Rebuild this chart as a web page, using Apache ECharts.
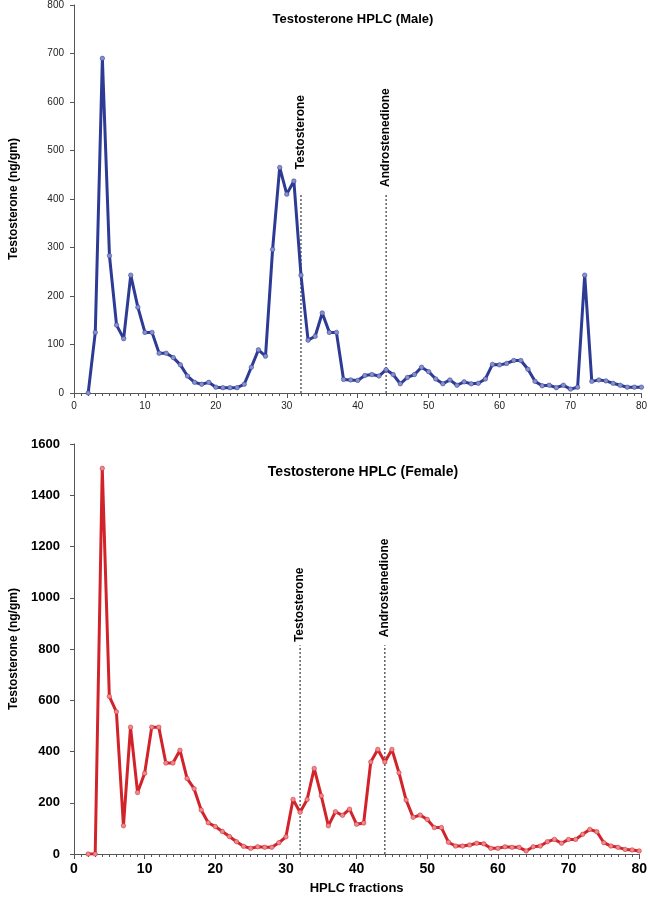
<!DOCTYPE html>
<html>
<head>
<meta charset="utf-8">
<script src="https://cdn.jsdelivr.net/npm/echarts@6/dist/echarts.min.js"></script>
<style>
html,body{margin:0;padding:0;background:#fff;}
#chart{width:650px;height:897px;}
</style>
</head>
<body>
<div id="chart"></div>
<script>
// ---- data ----
const fractions = [2,3,4,5,6,7,8,9,10,11,12,13,14,15,16,17,18,19,20,21,22,23,24,25,26,27,28,29,30,31,32,33,34,35,36,37,38,39,40,41,42,43,44,45,46,47,48,49,50,51,52,53,54,55,56,57,58,59,60,61,62,63,64,65,66,67,68,69,70,71,72,73,74,75,76,77,78,79,80];
const maleValues = [0,125,690,283,140,112,243,177,125,125,82,82,73,58,35,22,18,22,12,11,11,11,18,53,89,76,296,465,410,437,243,109,117,165,125,125,28,27,26,36,38,35,48,38,19,32,38,53,44,29,19,27,16,23,19,20,29,59,58,61,67,67,49,24,15,16,11,16,8,12,243,24,27,25,20,16,12,12,12];
const femaleValues = [0,0,1505,615,555,110,495,240,315,495,495,355,355,405,295,255,172,122,107,88,68,48,30,22,28,26,26,44,67,213,163,213,334,227,110,165,151,175,116,121,359,408,359,408,317,211,143,152,135,103,103,46,31,31,35,42,40,22,22,28,26,26,12,28,31,48,57,42,57,57,77,96,87,44,31,26,18,16,12];
const markerNames = ['Testosterone', 'Androstenedione'];
const markerFractions = [32, 44];
const maleMarkerTop = [412, 412];
const maleLabelBase = [461, 425];
const femaleMarkerTop = [815, 815];
const femaleLabelBase = [827, 846];
const maleTicks = {min: 0, max: 800, interval: 100};
const femaleTicks = {min: 0, max: 1600, interval: 200};
const xTicks = {min: 0, max: 80, interval: 10};

const FONT = '"Liberation Sans", Arial, sans-serif';
const zip = (xs, ys) => xs.map((x, i) => [x, ys[i]]);

function markerSeries(gi, tops, bases) {
  const out = [];
  markerFractions.forEach((f, i) => {
    out.push({
      type: 'line', xAxisIndex: gi, yAxisIndex: gi, silent: true,
      data: [[f, 0], [f, tops[i]]], symbol: 'none',
      lineStyle: {color: '#111', width: 1, type: [2, 2]}, z: 1
    });
    out.push({
      type: 'scatter', xAxisIndex: gi, yAxisIndex: gi, silent: true,
      data: [[f, bases[i]]], symbolSize: 0,
      itemStyle: {opacity: 1, color: '#000'},
      label: {show: true, position: 'inside', formatter: markerNames[i], rotate: 90,
        align: 'left', verticalAlign: 'middle', color: '#000', opacity: 1,
        textBorderWidth: 0, textShadowBlur: 0,
        fontFamily: FONT, fontWeight: 'bold', fontSize: 12}
    });
  });
  return out;
}

const axisLine = {show: true, lineStyle: {color: '#555', width: 1}};
const plain = v => String(v);

const option = {
  animation: false,
  backgroundColor: '#fff',
  title: [
    {text: 'Testosterone HPLC (Male)', left: 348, top: 8, textAlign: 'center',
     textStyle: {fontFamily: FONT, fontWeight: 'bold', fontSize: 13, color: '#000'}},
    {text: 'Testosterone HPLC (Female)', left: 358, top: 460, textAlign: 'center',
     textStyle: {fontFamily: FONT, fontWeight: 'bold', fontSize: 14, color: '#000'}}
  ],
  grid: [
    {left: 73, right: 7, top: 5, height: 388, containLabel: false},
    {left: 72.7, right: 7, top: 444, height: 410, containLabel: false}
  ],
  xAxis: [
    {type: 'value', gridIndex: 0, min: xTicks.min, max: xTicks.max, interval: xTicks.interval,
     axisLine: axisLine, splitLine: {show: false},
     axisTick: {show: true, length: 5, lineStyle: {color: '#555'}},
     minorTick: {show: true, splitNumber: 10, length: 3, lineStyle: {color: '#555'}},
     axisLabel: {fontFamily: FONT, fontSize: 10, color: '#222', margin: 8, formatter: plain}},
    {type: 'value', gridIndex: 1, min: xTicks.min, max: xTicks.max, interval: xTicks.interval,
     axisLine: axisLine, splitLine: {show: false},
     axisTick: {show: true, length: 5, lineStyle: {color: '#555'}},
     minorTick: {show: true, splitNumber: 10, length: 3, lineStyle: {color: '#555'}},
     axisLabel: {fontFamily: FONT, fontSize: 14, fontWeight: 'bold', color: '#000', margin: 8, formatter: plain},
     name: 'HPLC fractions', nameLocation: 'middle', nameGap: 28,
     nameTextStyle: {fontFamily: FONT, fontSize: 13, fontWeight: 'bold', color: '#000'}}
  ],
  yAxis: [
    {type: 'value', gridIndex: 0, min: maleTicks.min, max: maleTicks.max, interval: maleTicks.interval,
     axisLine: axisLine, splitLine: {show: false},
     axisTick: {show: true, length: 4, lineStyle: {color: '#555'}},
     axisLabel: {fontFamily: FONT, fontSize: 10, color: '#222', margin: 10, formatter: plain},
     name: 'Testosterone (ng/gm)', nameLocation: 'middle', nameGap: 54,
     nameTextStyle: {fontFamily: FONT, fontSize: 12, fontWeight: 'bold', color: '#000'}},
    {type: 'value', gridIndex: 1, min: femaleTicks.min, max: femaleTicks.max, interval: femaleTicks.interval,
     axisLine: axisLine, splitLine: {show: false},
     axisTick: {show: true, length: 4, lineStyle: {color: '#555'}},
     axisLabel: {fontFamily: FONT, fontSize: 13, fontWeight: 'bold', color: '#000', margin: 14, formatter: plain},
     name: 'Testosterone (ng/gm)', nameLocation: 'middle', nameGap: 54,
     nameTextStyle: {fontFamily: FONT, fontSize: 12, fontWeight: 'bold', color: '#000'}}
  ],
  series: [
    {type: 'line', xAxisIndex: 0, yAxisIndex: 0, data: zip(fractions, maleValues),
     symbol: 'circle', symbolSize: 4.5, z: 3,
     lineStyle: {color: '#2d3b95', width: 3},
     itemStyle: {color: '#8790c8', borderColor: '#2d3b95', borderWidth: 0.5}},
    {type: 'line', xAxisIndex: 1, yAxisIndex: 1, data: zip(fractions, femaleValues),
     symbol: 'circle', symbolSize: 4.5, z: 3,
     lineStyle: {color: '#d2232a', width: 3},
     itemStyle: {color: '#e98a8e', borderColor: '#d2232a', borderWidth: 0.5}},
    ...markerSeries(0, maleMarkerTop, maleLabelBase),
    ...markerSeries(1, femaleMarkerTop, femaleLabelBase)
  ]
};

const chart = echarts.init(document.getElementById('chart'), null, {renderer: 'canvas'});
chart.setOption(option);
</script>
</body>
</html>
